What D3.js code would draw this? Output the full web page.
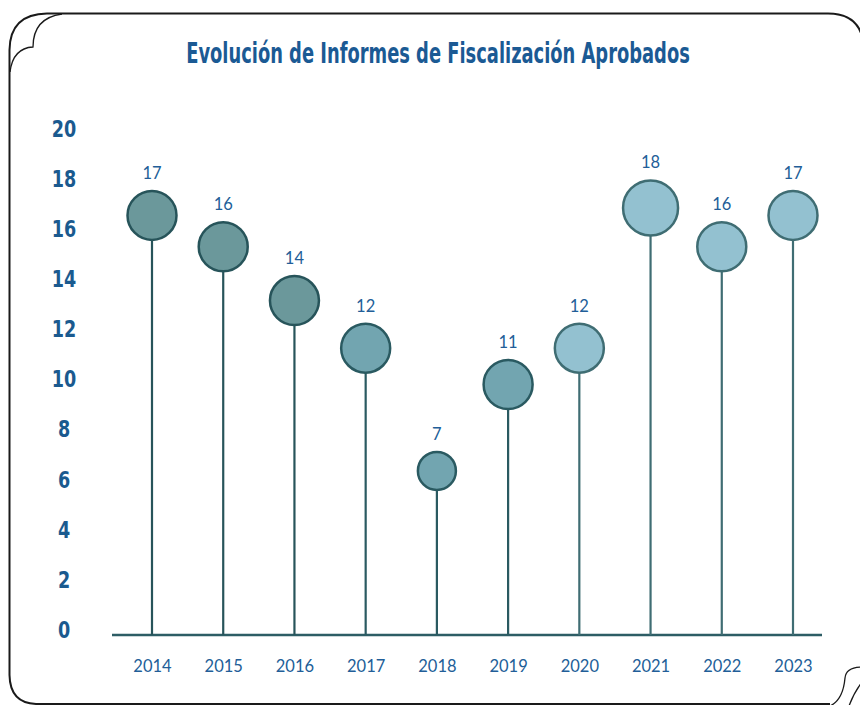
<!DOCTYPE html>
<html>
<head>
<meta charset="utf-8">
<script src="https://cdn.jsdelivr.net/npm/d3@7"></script>
<style>
  body { margin: 0; background: #fff; }
  svg { display: block; }
</style>
</head>
<body>
<div id="chart"></div>
<script>
// Data
const years = ['2014', '2015', '2016', '2017', '2018', '2019', '2020', '2021', '2022', '2023'];
// Printed value above each bubble
const labels = [17, 16, 14, 12, 7, 11, 12, 18, 16, 17];
// Bubble centre height as read against the y axis
const plotted = [16.75, 15.5, 13.35, 11.45, 6.55, 10, 11.45, 17.05, 15.5, 16.75];
const yTicks = [0, 2, 4, 6, 8, 10, 12, 14, 16, 18, 20];
const title = 'Evolución de Informes de Fiscalización Aprobados';

const width = 860;
const height = 705;
const condensed = '"Liberation Sans Narrow", "DejaVu Sans Condensed", sans-serif';

const svg = d3.select('#chart')
    .append('svg')
    .attr('width', width)
    .attr('height', height);

// Frame with curled corners
const frame = svg.append('g')
    .attr('fill', 'none')
    .attr('stroke', '#1a1a1a');

frame.append('path')
    .attr('stroke-width', 2)
    .attr('d', 'M47,13.5 L828,13.5 Q862,13.5 864,48 M9.5,50 Q10,14 47,13.5 M9.5,50 L9.5,675 Q10,703 36,704 L830,704');

frame.append('path')
    .attr('stroke-width', 1.3)
    .attr('d', 'M10,72 Q13,48 33,47 Q33,18 62,14');

frame.append('path')
    .attr('stroke-width', 1.3)
    .attr('d', 'M862,667 Q846,667 845,678 Q843,700 830,706 M864,680 Q855,690 849,706');

// Title, squeezed horizontally to the reference width
const titleText = svg.append('text')
    .attr('text-anchor', 'middle')
    .style('font-family', condensed)
    .style('font-weight', 'bold')
    .style('font-size', '28px')
    .attr('fill', '#1b5a94')
    .text(title);

const titleW = titleText.node().getComputedTextLength();
const titleScale = Math.min(1, 504 / titleW);
titleText.attr('transform', `translate(438, 63) scale(${titleScale}, 1)`);

// Scales
const xScale = d3.scalePoint()
    .domain(years)
    .range([152, 793]);

const yScale = d3.scaleLinear()
    .domain([0, 20])
    .range([635, 134]);

const radius = d3.scaleThreshold()
    .domain([8, 18])
    .range([19, 24.5, 27.5]);

const fillColor = d3.scaleThreshold()
    .domain([2017, 2020])
    .range(['#6b989b', '#72a5b0', '#93c1d0']);

const strokeColor = d3.scaleThreshold()
    .domain([2017, 2020])
    .range(['#27545a', '#2a5a61', '#3f6d73']);

// Y axis labels only
const yAxis = svg.append('g')
    .attr('transform', 'translate(64, 0)')
    .call(d3.axisLeft(yScale).tickValues(yTicks).tickSize(0).tickFormat(d3.format('d')));

yAxis.select('.domain').remove();
yAxis.selectAll('text')
    .attr('x', 0)
    .attr('y', -5)
    .attr('transform', 'scale(0.85, 1)')
    .attr('text-anchor', 'middle')
    .attr('fill', '#1a5a8f')
    .style('font-family', condensed)
    .style('font-weight', 'bold')
    .style('font-size', '23px');

// Baseline
svg.append('line')
    .attr('x1', 112)
    .attr('x2', 822)
    .attr('y1', yScale(0))
    .attr('y2', yScale(0))
    .attr('stroke', '#2d5d65')
    .attr('stroke-width', 2.5);

// X axis labels
const xAxis = svg.append('g')
    .attr('transform', `translate(0, ${yScale(0)})`)
    .call(d3.axisBottom(xScale).tickSize(0));

xAxis.select('.domain').remove();
xAxis.selectAll('text')
    .attr('y', 37)
    .attr('dy', 0)
    .attr('fill', '#225e98')
    .style('font-family', 'Lato, "Open Sans", sans-serif')
    .style('font-size', '16.5px');

// Lollipops
const points = years.map((year, i) => ({
    year: year,
    label: labels[i],
    level: plotted[i]
}));

const lolli = svg.append('g')
    .selectAll('g')
    .data(points)
    .join('g');

lolli.append('line')
    .attr('x1', d => xScale(d.year))
    .attr('x2', d => xScale(d.year))
    .attr('y1', d => yScale(d.level) + radius(d.label))
    .attr('y2', yScale(0))
    .attr('stroke', d => strokeColor(+d.year))
    .attr('stroke-width', 2.2);

lolli.append('circle')
    .attr('cx', d => xScale(d.year))
    .attr('cy', d => yScale(d.level))
    .attr('r', d => radius(d.label))
    .attr('fill', d => fillColor(+d.year))
    .attr('stroke', d => strokeColor(+d.year))
    .attr('stroke-width', 2.5);

lolli.append('text')
    .attr('x', d => xScale(d.year))
    .attr('y', d => yScale(d.level) - radius(d.label) - 12)
    .attr('text-anchor', 'middle')
    .attr('fill', '#225e98')
    .style('font-family', 'Lato, "Open Sans", sans-serif')
    .style('font-size', '16.5px')
    .text(d => d.label);
</script>
</body>
</html>
